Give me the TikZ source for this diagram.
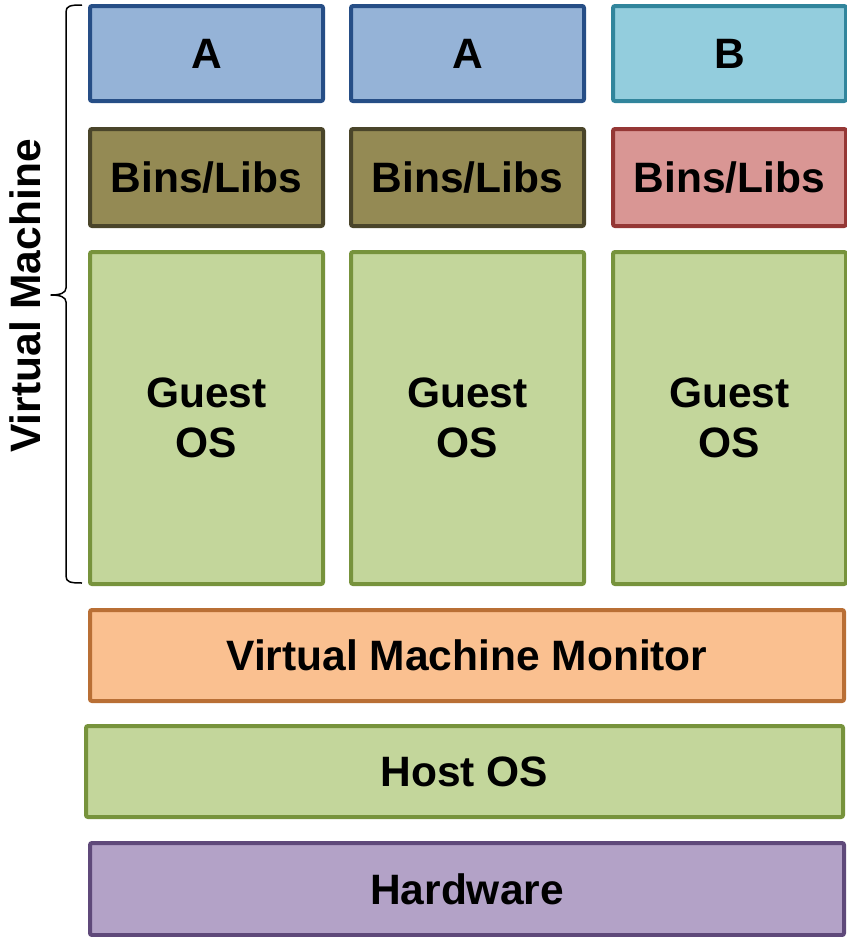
\documentclass[tikz,border=0pt]{standalone}
\usepackage{fontspec}
\setmainfont{Liberation Sans}
\definecolor{aFill}{HTML}{95B3D7}\definecolor{aLine}{HTML}{264E86}
\definecolor{bFill}{HTML}{93CDDD}\definecolor{bLine}{HTML}{31859C}
\definecolor{oFill}{HTML}{948A54}\definecolor{oLine}{HTML}{4A452A}
\definecolor{rFill}{HTML}{D99694}\definecolor{rLine}{HTML}{953735}
\definecolor{gFill}{HTML}{C3D69B}\definecolor{gLine}{HTML}{77933C}
\definecolor{vFill}{HTML}{FAC090}\definecolor{vLine}{HTML}{B96F35}
\definecolor{hFill}{HTML}{B3A2C7}\definecolor{hLine}{HTML}{5F497A}
\tikzset{
  layer/.style={draw, line width=4pt, rounded corners=2pt, inner sep=0pt, outer sep=0pt,
    font=\fontsize{42.5}{50}\selectfont\bfseries, align=center, text=black},
  appA/.style={layer, fill=aFill, draw=aLine},
  appB/.style={layer, fill=bFill, draw=bLine},
  binsO/.style={layer, fill=oFill, draw=oLine},
  binsR/.style={layer, fill=rFill, draw=rLine},
  green/.style={layer, fill=gFill, draw=gLine},
  vmm/.style={layer, fill=vFill, draw=vLine},
  hw/.style={layer, fill=hFill, draw=hLine},
}
\begin{document}
\begin{tikzpicture}[x=1pt,y=-1pt]
\useasboundingbox (0,0) rectangle (846,937);
% apps
\node[appA, minimum width=233pt, minimum height=95pt] (a1) at (206.5,53.5) {A};
\node[appA, minimum width=233pt, minimum height=95pt] (a2) at (467.5,53.5) {A};
\node[appB, minimum width=233pt, minimum height=95pt] (b1) at (729.5,53.5) {B};
% bins
\node[binsO, minimum width=233pt, minimum height=97pt] (l1) at (206.5,177.5) {Bins/Libs};
\node[binsO, minimum width=233pt, minimum height=97pt] (l2) at (467.5,177.5) {Bins/Libs};
\node[binsR, minimum width=233pt, minimum height=97pt] (l3) at (729.5,177.5) {Bins/Libs};
% guest OS
\node[green, minimum width=233pt, minimum height=332pt] (g1) at (206.5,418) {Guest\\OS};
\node[green, minimum width=233pt, minimum height=332pt] (g2) at (467.5,418) {Guest\\OS};
\node[green, minimum width=233pt, minimum height=332pt] (g3) at (729.5,418) {Guest\\OS};
% lower layers
\node[vmm, minimum width=754pt, minimum height=91pt] (vm) at (467,655.5) {Virtual Machine Monitor};
\node[green, minimum width=757pt, minimum height=91pt] (host) at (464.5,771.5) {Host OS};
\node[hw, minimum width=754pt, minimum height=92pt] (hwn) at (467,889) {Hardware};
% brace
\coordinate (bt) at (82,5);
\coordinate (bb) at (82,583);
\coordinate (tip) at (51,295);
\draw[line width=1.5pt, line join=round]
  (bt) .. controls (70,5) and (66,6) .. (66,12) -- (66,288)
  .. controls (66,293) and (60,295) .. (tip)
  .. controls (60,295) and (66,297) .. (66,302) -- (66,576)
  .. controls (66,582) and (70,583) .. (bb);
\node[rotate=90, font=\fontsize{42.5}{50}\selectfont\bfseries] (vmlabel) at (25,296) {Virtual Machine};
\end{tikzpicture}
\end{document}
